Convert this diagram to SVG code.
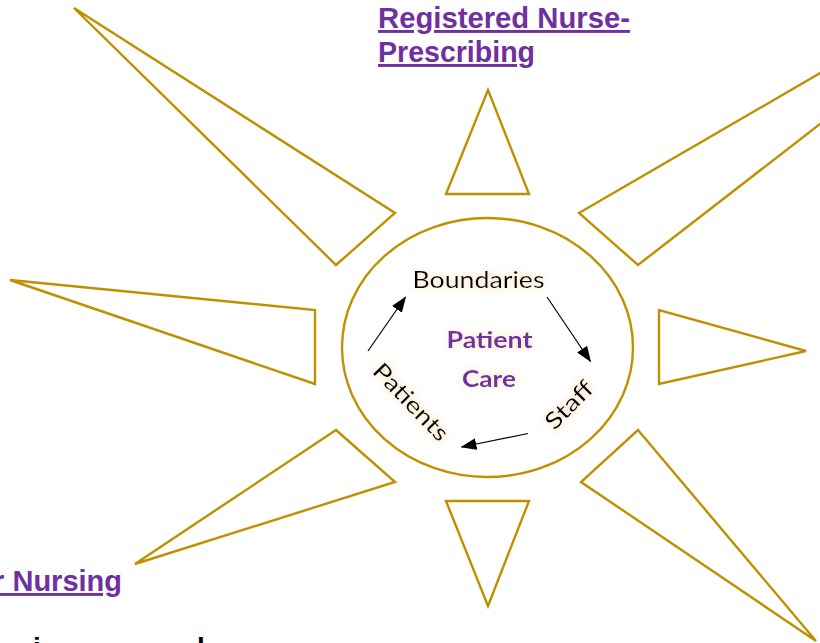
<svg xmlns="http://www.w3.org/2000/svg" width="820" height="643" viewBox="0 0 820 643">
  <defs>
    <style>
      .ray { fill: #FFFFFF; stroke: #BF9000; stroke-width: 2.4; stroke-linejoin: miter; }
      .hub { fill: #FFFFFF; stroke: #BF9000; stroke-width: 2.4; }
      .lbl { font-family: "Liberation Sans", Arial, sans-serif; font-weight: bold; font-size: 29px; fill: #7030A0; text-decoration: underline; }
      .cyc { font-family: Lato, "Open Sans", sans-serif; font-size: 23px; fill: #000000; }
      .core { font-family: Lato, "Open Sans", sans-serif; font-weight: bold; font-size: 22.5px; fill: #7030A0; }
      .cut { font-family: "Liberation Sans", Arial, sans-serif; font-weight: bold; font-size: 28px; fill: #000000; }
      .conn { stroke: #000000; stroke-width: 1.2; fill: none; marker-end: url(#arrow); }
    </style>
    <marker id="arrow" markerUnits="userSpaceOnUse" markerWidth="16" markerHeight="12" refX="15" refY="6" orient="auto">
      <path d="M0,0 L16,6 L0,12 Z" fill="#000000"/>
    </marker>
    <filter id="glow" x="-30%" y="-40%" width="160%" height="180%">
      <feMorphology in="SourceAlpha" operator="dilate" radius="1.5" result="d"/>
      <feGaussianBlur in="d" stdDeviation="3" result="b"/>
      <feFlood flood-color="#FBE3BE" flood-opacity="0.45"/>
      <feComposite operator="in" in2="b" result="g"/>
      <feMerge>
        <feMergeNode in="g"/>
        <feMergeNode in="SourceGraphic"/>
      </feMerge>
    </filter>
  </defs>

  <rect width="820" height="643" fill="#FFFFFF"/>

  <g id="ray-top"><polygon class="ray" points="488,90 446,194 529,194"/></g>
  <g id="ray-bottom"><polygon class="ray" points="446,501 529,501 488,606"/></g>
  <g id="ray-right"><polygon class="ray" points="659,310 659,384 806,351"/></g>
  <g id="ray-left"><polygon class="ray" points="10,280 315,310 315,384"/></g>
  <g id="ray-upper-left"><polygon class="ray" points="74,8 395,213 336,265"/></g>
  <g id="ray-upper-right"><polygon class="ray" points="579,213 1082,-79 638,265"/></g>
  <g id="ray-lower-left"><polygon class="ray" points="336,430 395,482 135,564"/></g>
  <g id="ray-lower-right"><polygon class="ray" points="638,430 816,641 581,482"/></g>

  <g id="hub"><ellipse class="hub" cx="487.5" cy="347.5" rx="145.5" ry="129.5"/></g>

  <g id="connectors">
    <line class="conn" x1="368" y1="351" x2="405.5" y2="297"/>
    <line class="conn" x1="547" y1="297" x2="590.5" y2="361.5"/>
    <line class="conn" x1="528" y1="433.5" x2="461.5" y2="447"/>
  </g>

  <g id="boundaries" filter="url(#glow)"><text class="cyc" x="412.5" y="288" textLength="132" lengthAdjust="spacingAndGlyphs">Boundaries</text></g>
  <g id="staff" filter="url(#glow)"><text class="cyc" transform="translate(569,405) rotate(-45)" x="0" y="8" text-anchor="middle" textLength="58" lengthAdjust="spacingAndGlyphs">Staff</text></g>
  <g id="patients" filter="url(#glow)"><text class="cyc" transform="translate(411,402) rotate(46)" x="0" y="8" text-anchor="middle" textLength="98" lengthAdjust="spacingAndGlyphs">Patients</text></g>
  <g id="patient-care" filter="url(#glow)">
    <text class="core" x="489.5" y="348" text-anchor="middle" textLength="86" lengthAdjust="spacingAndGlyphs">Patient</text>
    <text class="core" x="489" y="387" text-anchor="middle" textLength="54" lengthAdjust="spacingAndGlyphs">Care</text>
  </g>

  <g id="label-prescribing">
    <text class="lbl" x="378" y="28" textLength="252" lengthAdjust="spacingAndGlyphs">Registered Nurse-</text>
    <text class="lbl" x="378" y="62" textLength="157" lengthAdjust="spacingAndGlyphs">Prescribing</text>
  </g>
  <g id="label-nursing">
    <text class="lbl" x="122" y="591" text-anchor="end">r Nursing</text>
  </g>
  <g id="label-cut">
    <text class="cut" x="33" y="657">i</text>
    <text class="cut" x="197" y="657">l</text>
  </g>
</svg>
